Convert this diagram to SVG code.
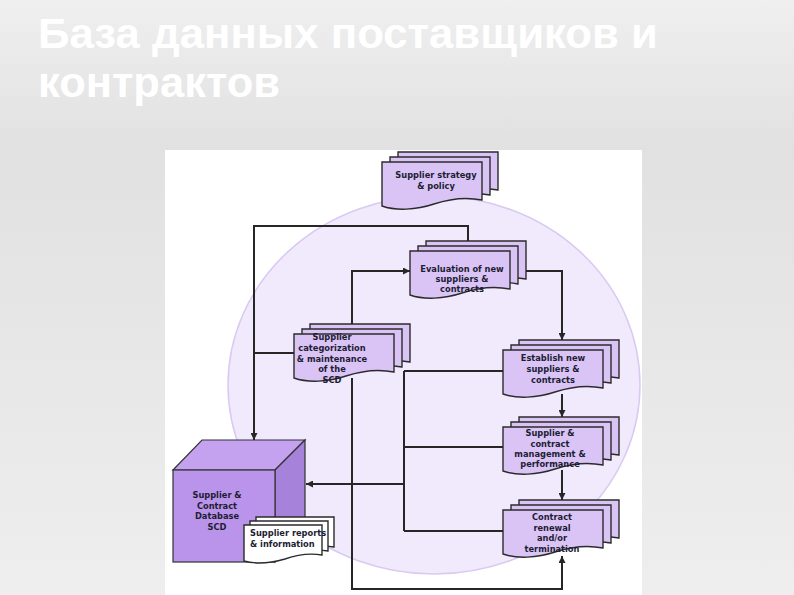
<svg xmlns="http://www.w3.org/2000/svg" xmlns:xlink="http://www.w3.org/1999/xlink" width="794" height="595" viewBox="0 0 794 595">
<defs>
<linearGradient id="bg" x1="0" y1="0" x2="0" y2="1">
<stop offset="0" stop-color="#efefef"/>
<stop offset="0.25" stop-color="#e1e1e1"/>
<stop offset="1" stop-color="#eeeeee"/>
</linearGradient>
<path id="doc" d="M0,0 H100 V38 C85,35 70,36 52,42 C34,48 14,49 0,44 Z"/>
<path id="sdoc" d="M0,0 H78 V30 C66,28 55,29 41,34 C27,38 11,39 0,36 Z"/>
<marker id="arr" markerUnits="userSpaceOnUse" markerWidth="8" markerHeight="7" refX="7" refY="3.5" orient="auto">
<path d="M0,0 L7,3.5 L0,7 Z" fill="#262626"/>
</marker>
<style>
.sheet{fill:#d9c4f5;stroke:#2b2b2b;stroke-width:1.4}
.wsheet{fill:#ffffff;stroke:#2b2b2b;stroke-width:1.4}
.lbl{font-family:'DejaVu Sans Condensed','DejaVu Sans',sans-serif;font-weight:bold;font-size:9.2px;fill:#1d1d33;text-anchor:middle}
.lbll{font-family:'DejaVu Sans Condensed','DejaVu Sans',sans-serif;font-weight:bold;font-size:9.2px;fill:#1d1d33}
.conn{fill:none;stroke:#262626;stroke-width:2}
.title{font-family:'Liberation Sans',Arial,sans-serif;font-weight:bold;font-size:42px;fill:#ffffff}
.cube{stroke:#333333;stroke-width:1.2}
</style>
</defs>
<rect width="794" height="595" fill="url(#bg)"/>
<text class="title" x="38" y="48" textLength="620" lengthAdjust="spacingAndGlyphs">База данных поставщиков и</text>
<text class="title" x="38" y="97" textLength="242" lengthAdjust="spacingAndGlyphs">контрактов</text>
<rect x="165" y="150" width="477" height="445" fill="#ffffff"/>
<ellipse cx="434" cy="385" rx="206" ry="189" fill="#f1e9fc" stroke="#dac9f1" stroke-width="1.5"/>
<g id="connectors">
<path class="conn" d="M468,241 V226 H254 V440" marker-end="url(#arr)"/>
<path class="conn" d="M294,353 H254"/>
<path class="conn" d="M352,326 V271 H410" marker-end="url(#arr)"/>
<path class="conn" d="M352,378 V589 H562 V556" marker-end="url(#arr)"/>
<path class="conn" d="M510,271 H562 V340" marker-end="url(#arr)"/>
<path class="conn" d="M562,394 V417" marker-end="url(#arr)"/>
<path class="conn" d="M562,470 V500" marker-end="url(#arr)"/>
<path class="conn" d="M404,371 V531"/>
<path class="conn" d="M404,371 H503"/>
<path class="conn" d="M404,447 H503"/>
<path class="conn" d="M404,531 H503"/>
<path class="conn" d="M404,484 H306" marker-end="url(#arr)"/>
</g>
<g id="node-strategy">
<use href="#doc" xlink:href="#doc" class="sheet" x="398" y="152"/>
<use href="#doc" xlink:href="#doc" class="sheet" x="390" y="157"/>
<use href="#doc" xlink:href="#doc" class="sheet" x="382" y="162"/>
<text class="lbl" x="436" y="178">Supplier strategy</text>
<text class="lbl" x="436" y="189">&amp; policy</text>
</g>
<g id="node-evaluation">
<use href="#doc" xlink:href="#doc" class="sheet" x="426" y="241"/>
<use href="#doc" xlink:href="#doc" class="sheet" x="418" y="246"/>
<use href="#doc" xlink:href="#doc" class="sheet" x="410" y="251"/>
<text class="lbl" x="462" y="272">Evaluation of new</text>
<text class="lbl" x="462" y="282">suppliers &amp;</text>
<text class="lbl" x="462" y="292">contracts</text>
</g>
<g id="node-categorization">
<use href="#doc" xlink:href="#doc" class="sheet" x="310" y="324"/>
<use href="#doc" xlink:href="#doc" class="sheet" x="302" y="329"/>
<use href="#doc" xlink:href="#doc" class="sheet" x="294" y="334"/>
<text class="lbl" x="332" y="340">Supplier</text>
<text class="lbl" x="332" y="351">categorization</text>
<text class="lbl" x="332" y="361.5">&amp; maintenance</text>
<text class="lbl" x="332" y="372">of the</text>
<text class="lbl" x="332" y="382.5">SCD</text>
</g>
<g id="node-establish">
<use href="#doc" xlink:href="#doc" class="sheet" x="519" y="340"/>
<use href="#doc" xlink:href="#doc" class="sheet" x="511" y="345"/>
<use href="#doc" xlink:href="#doc" class="sheet" x="503" y="350"/>
<text class="lbl" x="553" y="361">Establish new</text>
<text class="lbl" x="553" y="372">suppliers &amp;</text>
<text class="lbl" x="553" y="383">contracts</text>
</g>
<g id="node-management">
<use href="#doc" xlink:href="#doc" class="sheet" x="519" y="417"/>
<use href="#doc" xlink:href="#doc" class="sheet" x="511" y="422"/>
<use href="#doc" xlink:href="#doc" class="sheet" x="503" y="427"/>
<text class="lbl" x="550" y="436">Supplier &amp;</text>
<text class="lbl" x="550" y="446.5">contract</text>
<text class="lbl" x="550" y="457">management &amp;</text>
<text class="lbl" x="550" y="467">performance</text>
</g>
<g id="node-renewal">
<use href="#doc" xlink:href="#doc" class="sheet" x="519" y="500"/>
<use href="#doc" xlink:href="#doc" class="sheet" x="511" y="505"/>
<use href="#doc" xlink:href="#doc" class="sheet" x="503" y="510"/>
<text class="lbl" x="552" y="520">Contract</text>
<text class="lbl" x="552" y="530.5">renewal</text>
<text class="lbl" x="552" y="541">and/or</text>
<text class="lbl" x="552" y="551.5">termination</text>
</g>
<g id="node-database">
<polygon class="cube" points="173,470 202,440 305,440 275,470" fill="#c4a2f0"/>
<polygon class="cube" points="275,470 305,440 305,532 275,562" fill="#a682da"/>
<rect class="cube" x="173" y="470" width="102" height="92" fill="#b994ea"/>
<text class="lbl" x="217" y="498">Supplier &amp;</text>
<text class="lbl" x="217" y="508.5">Contract</text>
<text class="lbl" x="217" y="519">Database</text>
<text class="lbl" x="217" y="529.5">SCD</text>
</g>
<g id="node-reports">
<use href="#sdoc" xlink:href="#sdoc" class="wsheet" x="256" y="517"/>
<use href="#sdoc" xlink:href="#sdoc" class="wsheet" x="250" y="521"/>
<use href="#sdoc" xlink:href="#sdoc" class="wsheet" x="244" y="525"/>
<text class="lbll" x="250" y="536">Supplier reports</text>
<text class="lbll" x="250" y="546.5">&amp; information</text>
</g>
</svg>
